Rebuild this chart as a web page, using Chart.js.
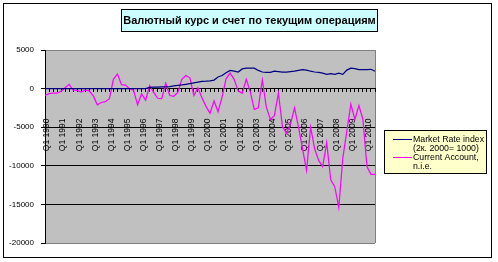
<!DOCTYPE html>
<html><head><meta charset="utf-8">
<script src="https://cdn.jsdelivr.net/npm/chart.js@4/dist/chart.umd.min.js"></script>
<style>html,body{margin:0;padding:0;background:#fff}#wrap{width:498px;height:262px}</style>
</head><body><div id="wrap"><canvas id="c" width="498" height="262"></canvas></div>
<script>
const chartTitle = 'Валютный курс и счет по текущим операциям';
const quarters = [
 'Q1 1990','Q2 1990','Q3 1990','Q4 1990','Q1 1991','Q2 1991','Q3 1991','Q4 1991',
 'Q1 1992','Q2 1992','Q3 1992','Q4 1992','Q1 1993','Q2 1993','Q3 1993','Q4 1993',
 'Q1 1994','Q2 1994','Q3 1994','Q4 1994','Q1 1995','Q2 1995','Q3 1995','Q4 1995',
 'Q1 1996','Q2 1996','Q3 1996','Q4 1996','Q1 1997','Q2 1997','Q3 1997','Q4 1997',
 'Q1 1998','Q2 1998','Q3 1998','Q4 1998','Q1 1999','Q2 1999','Q3 1999','Q4 1999',
 'Q1 2000','Q2 2000','Q3 2000','Q4 2000','Q1 2001','Q2 2001','Q3 2001','Q4 2001',
 'Q1 2002','Q2 2002','Q3 2002','Q4 2002','Q1 2003','Q2 2003','Q3 2003','Q4 2003',
 'Q1 2004','Q2 2004','Q3 2004','Q4 2004','Q1 2005','Q2 2005','Q3 2005','Q4 2005',
 'Q1 2006','Q2 2006','Q3 2006','Q4 2006','Q1 2007','Q2 2007','Q3 2007','Q4 2007',
 'Q1 2008','Q2 2008','Q3 2008','Q4 2008','Q1 2009','Q2 2009','Q3 2009','Q4 2009',
 'Q1 2010','Q2 2010','Q3 2010'
];
const marketRateName = ['Market Rate index', '(2к. 2000= 1000)'];
const marketRate = [
 0,0,0,0, 0,0,0,0, 0,0,0,0, 0,0,0,0, 0,0,0,0, 0,0,0,0,
 0,0,150,180, 200,220,230,250, 350,420,480,560, 650,750,850,950,
 960,1000,1100,1500, 1700,2050,2350,2250, 2150,2550,2650,2650,
 2650,2350,2150,2100, 2100,2250,2200,2150, 2150,2200,2250,2350,
 2450,2400,2250,2150, 2100,2000,1850,1950, 1850,2000,1850,2400,
 2650,2600,2450,2450, 2450,2500,2250
];
const currentAccountName = ['Current Account,', 'n.i.e.'];
const currentAccount = [
 -900,-650,-600,-600, -350,100,550,-200, -230,-450,-200,-300,
 -950,-2100,-1800,-1700, -1300,1200,1900,500, 450,0,-200,-2100,
 -700,-1500,400,-500, -1250,-1300,700,-900, -1000,-500,1200,1700,
 1400,-900,100,-1200, -2300,-3200,-1600,-3000, -1100,1300,2000,1200,
 -300,-600,1200,-400, -2700,-2500,1100,-2400, -4000,-3500,-600,-4900,
 -5800,-4600,-2500,-5000, -7800,-10600,-5000,-7800, -9300,-10100,-7000,-11800,
 -12700,-15400,-9000,-5500, -2000,-4000,-2200,-4000, -10100,-11100,-11100
];
const yTicks = [5000, 0, -5000, -10000, -15000, -20000];

const FONT = '"Liberation Sans", Arial, sans-serif';

const decor = {
  id: 'decor',
  beforeDraw(chart) {
    const ctx = chart.ctx, a = chart.chartArea;
    ctx.save();
    ctx.fillStyle = '#ffffff';
    ctx.fillRect(0, 0, chart.width, chart.height);
    ctx.fillStyle = '#C0C0C0';
    ctx.fillRect(a.left, a.top, a.right - a.left, a.bottom - a.top);
    ctx.strokeStyle = '#808080';
    ctx.lineWidth = 1;
    ctx.beginPath();
    ctx.moveTo(Math.round(a.right) + 0.5, a.top);
    ctx.lineTo(Math.round(a.right) + 0.5, a.bottom);
    ctx.stroke();
    ctx.restore();
  },
  afterDraw(chart) {
    const ctx = chart.ctx;
    ctx.save();
    ctx.strokeStyle = '#000';
    ctx.lineWidth = 1;
    ctx.strokeRect(3.5, 3.5, 488, 254);
    ctx.fillStyle = '#CCFFFF';
    ctx.fillRect(121.5, 9.5, 256, 22);
    ctx.strokeRect(121.5, 9.5, 256, 22);
    ctx.fillStyle = '#000';
    ctx.font = 'bold 11px ' + FONT;
    ctx.textAlign = 'center';
    ctx.textBaseline = 'middle';
    ctx.fillText(chartTitle, 249.5, 21);
    ctx.fillStyle = '#FFFFCC';
    ctx.fillRect(384.5, 130.5, 102, 43);
    ctx.strokeRect(384.5, 130.5, 102, 43);
    ctx.font = '8.75px ' + FONT;
    ctx.textAlign = 'left';
    let y = 139.5;
    chart.data.datasets.forEach(d => {
      ctx.strokeStyle = d.borderColor;
      ctx.lineWidth = 1;
      ctx.beginPath();
      ctx.moveTo(393, y);
      ctx.lineTo(412, y);
      ctx.stroke();
      ctx.fillStyle = '#000';
      d.legendLines.forEach((t, k) => ctx.fillText(t, 413, y + k * 9));
      y += 18;
    });
    ctx.restore();
  }
};

new Chart(document.getElementById('c'), {
  type: 'line',
  data: {
    labels: quarters,
    datasets: [
      { label: marketRateName.join(' '), legendLines: marketRateName, data: marketRate,
        borderColor: '#000080', borderWidth: 1.25, pointRadius: 0, tension: 0, fill: false },
      { label: currentAccountName.join(' '), legendLines: currentAccountName, data: currentAccount,
        borderColor: '#FF00FF', borderWidth: 1.25, pointRadius: 0, tension: 0, fill: false }
    ]
  },
  options: {
    responsive: false,
    animation: false,
    devicePixelRatio: 1,
    layout: { padding: { left: 0, top: 50, right: 123, bottom: 19 } },
    plugins: { legend: { display: false }, title: { display: false }, tooltip: { enabled: false } },
    scales: {
      x: {
        type: 'category',
        position: { y: 0 },
        offset: false,
        grid: { display: true, drawOnChartArea: false, drawTicks: true, tickLength: 3, tickColor: '#000', color: '#000' },
        border: { display: true, color: '#000', width: 1 },
        ticks: {
          autoSkip: false, maxRotation: 90, minRotation: 90, padding: 27, labelOffset: 2, color: '#000',
          font: { family: FONT, size: 8.5 },
          callback: (v, i) => quarters[i].startsWith('Q1') ? quarters[i] : ''
        }
      },
      y: {
        min: -20000, max: 5000,
        afterBuildTicks: s => { s.ticks = yTicks.map(v => ({ value: v })); },
        afterFit: s => { s.width = 45; },
        grid: {
          color: c => (c.tick && (c.tick.value === 5000 || c.tick.value === -20000)) ? '#808080' : '#000',
          tickColor: '#000', tickLength: 4, lineWidth: 1
        },
        border: { display: true, color: '#000', width: 1 },
        ticks: { color: '#000', padding: 7, font: { family: FONT, size: 8 }, callback: v => String(v) }
      }
    }
  },
  plugins: [decor]
});
</script>
</body></html>
